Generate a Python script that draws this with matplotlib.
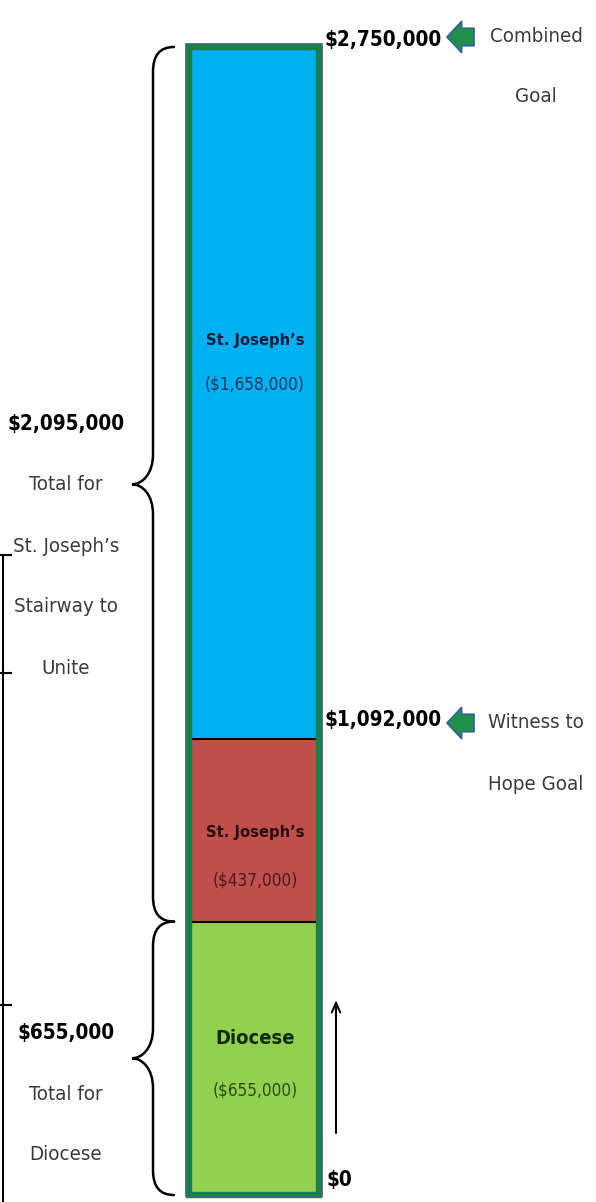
import matplotlib
matplotlib.use("Agg")
import matplotlib.pyplot as plt
from matplotlib import font_manager
from matplotlib.path import Path
from matplotlib.patches import PathPatch, Rectangle

# pick a narrow sans face if one is installed, otherwise plain Liberation Sans
narrow = []
for f in font_manager.fontManager.ttflist:
    nm = f.name
    if 'Mono' in nm or 'Serif' in nm:
        continue
    if 'Narrow' in nm or 'Condensed' in nm or str(f.stretch) in ('condensed', 'semi-condensed', 'extra-condensed'):
        narrow.append((nm, f.stretch))
pref = ['Liberation Sans Narrow', 'Noto Sans', 'DejaVu Sans', 'Open Sans', 'Roboto']
narrow.sort(key=lambda t: next((i for i, p in enumerate(pref) if t[0].startswith(p)), 99))
if narrow:
    FONT, STRETCH = narrow[0][0], narrow[0][1]
else:
    FONT, STRETCH = 'Liberation Sans', 'normal'
plt.rcParams['font.family'] = [FONT, 'DejaVu Sans']
plt.rcParams['font.stretch'] = STRETCH

# data
segment_names = ['Diocese', "St. Joseph\u2019s", "St. Joseph\u2019s"]
segment_amounts = [655000, 437000, 1658000]
segment_colors = ['#92d050', '#c0504d', '#00b0f0']
name_colors = ['#0f2a0f', '#2a0c0c', '#0d1a3a']
amount_colors = ['#2c4a1c', '#4a1818', '#1f3864']

goal_values = [1092000, 2750000]
goal_labels = [['Witness to', 'Hope Goal'], ['Combined', 'Goal']]

brace_ranges = [(0, 655000), (655000, 2750000)]
brace_titles = ['$655,000', '$2,095,000']
brace_notes = [['Total for', 'Diocese'], ['Total for', 'St. Joseph\u2019s', 'Stairway to', 'Unite']]

# layout (pixels in a 596 x 1202 canvas)
W, H = 596, 1202
BOTTOM_PX, TOP_PX = 1195, 47
total = sum(segment_amounts)
scale = total / (BOTTOM_PX - TOP_PX)


def v(py):
    # pixel row -> data value
    return (BOTTOM_PX - py) * scale


fig = plt.figure(figsize=(W / 100, H / 100), dpi=100)
ax = fig.add_axes([0, 0, 1, 1])
ax.set_xlim(0, W)
ax.set_ylim(v(H), v(0))
ax.axis('off')
renderer = fig.canvas.get_renderer()


def fit_size(s, width_px, weight='normal', base=20):
    # font size that makes s about width_px wide
    t = ax.text(0, 0, s, fontsize=base, fontweight=weight)
    w = t.get_window_extent(renderer).width
    t.remove()
    return base * width_px / w


big_size = fit_size('$2,750,000', 118, 'bold')
note_size = fit_size('Witness to', 96)
name_size = fit_size('St. Joseph\u2019s', 98, 'bold')
dio_size = fit_size('Diocese', 80, 'bold')
amt_size = fit_size('($1,658,000)', 100)

bar_x, bar_w = 254, 124
bottoms = [sum(segment_amounts[:i]) for i in range(len(segment_amounts))]
ax.bar(bar_x, segment_amounts, bottom=bottoms, width=bar_w, color=segment_colors, linewidth=0)

# dividers between the segments
for b in bottoms[1:]:
    ax.plot([bar_x - bar_w / 2, bar_x + bar_w / 2], [b, b], color='black', lw=1.5)

# frame of the bar
ax.add_patch(Rectangle((bar_x - 65, 0), 130, total, fill=False, ec='#1b8048', lw=4.6, zorder=3))
ax.add_patch(Rectangle((bar_x - 68, v(BOTTOM_PX + 1)), 136, total + 4 * scale,
                       fill=False, ec='#3d6688', lw=1.2, zorder=4))

# labels inside the segments
name_py = [1038, 832, 340]
amount_py = [1090, 880, 385]
name_sizes = [dio_size, name_size, name_size]
for i, (nm, amt) in enumerate(zip(segment_names, segment_amounts)):
    ax.text(bar_x + 1, v(name_py[i]), nm, ha='center', va='center', fontsize=name_sizes[i],
            fontweight='bold', color=name_colors[i])
    ax.text(bar_x + 1, v(amount_py[i]), '(${:,})'.format(amt), ha='center', va='center',
            fontsize=amt_size, color=amount_colors[i])

# goals on the right
goal_text_py = [720, 40]
goal_note_py = [[723, 784], [37, 97]]
for gv, lines, tpy, npy in zip(goal_values, goal_labels, goal_text_py, goal_note_py):
    ax.text(325, v(tpy), '${:,}'.format(gv), ha='left', va='center', fontsize=big_size,
            fontweight='bold', color='black')
    ax.annotate('', xy=(447, v(npy[0])), xytext=(474, v(npy[0])),
                arrowprops=dict(arrowstyle='simple,head_length=0.35,head_width=0.75,tail_width=0.42',
                                fc='#1f8f4a', ec='#2f6296', lw=1.2, shrinkA=0, shrinkB=0,
                                mutation_scale=30))
    for line, py in zip(lines, npy):
        ax.text(536, v(py), line, ha='center', va='center', fontsize=note_size, color='#3a3a3a')

# start marker
ax.annotate('', xy=(336, v(1000)), xytext=(336, v(1133)),
            arrowprops=dict(arrowstyle='->,head_length=0.7,head_width=0.3', color='black', lw=1.5,
                            shrinkA=0, shrinkB=0))
ax.text(339, v(1180), '$0', ha='center', va='center', fontsize=big_size, fontweight='bold', color='black')


# curly braces on the left
def brace(y0, y1):
    x_end, x_mid, x_tip = 174, 153, 132
    p0, p1 = BOTTOM_PX - y0 / scale, BOTTOM_PX - y1 / scale  # pixel rows (p0 below p1)
    pm = (p0 + p1) / 2
    pts = [(x_end, p1), (160, p1), (x_mid, p1 + 8), (x_mid, p1 + 25),
           (x_mid, pm - 30), (x_mid, pm - 10), (142, pm), (x_tip, pm),
           (142, pm), (x_mid, pm + 10), (x_mid, pm + 30),
           (x_mid, p0 - 25), (x_mid, p0 - 8), (160, p0), (x_end, p0)]
    codes = [Path.MOVETO, Path.CURVE4, Path.CURVE4, Path.CURVE4,
             Path.LINETO, Path.CURVE4, Path.CURVE4, Path.CURVE4,
             Path.CURVE4, Path.CURVE4, Path.CURVE4,
             Path.LINETO, Path.CURVE4, Path.CURVE4, Path.CURVE4]
    verts = [(x, v(py)) for x, py in pts]
    ax.add_patch(PathPatch(Path(verts, codes), fill=False, ec='black', lw=1.8, capstyle='round'))


for y0, y1 in brace_ranges:
    brace(y0, y1)

title_py = [1033, 424]
for title, notes, tp in zip(brace_titles, brace_notes, title_py):
    ax.text(66, v(tp), title, ha='center', va='center', fontsize=big_size, fontweight='bold', color='black')
    for k, line in enumerate(notes):
        ax.text(66, v(tp + 61 * (k + 1)), line, ha='center', va='center', fontsize=note_size, color='#3a3a3a')

# stray table border at the left edge
ax.plot([3, 3], [v(555), v(H)], color='black', lw=1.5)
for py in [555, 673, 1005]:
    ax.plot([0, 11], [v(py), v(py)], color='black', lw=1.5)

fig.savefig('out.png', dpi=100)
